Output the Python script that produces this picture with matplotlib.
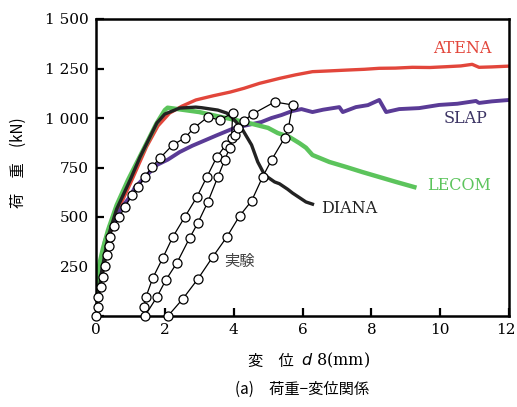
import matplotlib
matplotlib.use("Agg")
import matplotlib.pyplot as plt
from matplotlib.transforms import ScaledTranslation

# --- data (displacement mm, load kN) ---
atena_x = [0, 0.15, 0.35, 0.6, 1.0, 1.47, 1.8, 2.14, 2.5, 2.9, 3.4, 3.9, 4.3, 4.75, 5.1, 5.33,
           5.8, 6.29, 6.8, 7.28, 7.8, 8.23, 8.7, 9.19, 9.7, 10.17, 10.6, 10.93, 11.13, 11.5, 12.0]
atena_y = [0, 200, 390, 520, 670, 855, 960, 1025, 1060, 1091, 1112, 1131, 1150, 1175, 1190, 1200,
           1218, 1234, 1238, 1242, 1246, 1251, 1252, 1256, 1255, 1259, 1263, 1271, 1256, 1258, 1262]

slap_x = [0, 0.1, 0.26, 0.5, 0.75, 1.0, 1.13, 1.5, 1.77, 2.09, 2.43, 2.8, 3.07, 3.5, 4.03, 4.5,
          4.81, 5.1, 5.39, 5.7, 5.97, 6.29, 6.6, 7.07, 7.17, 7.55, 7.9, 8.23, 8.43, 8.81, 9.39,
          9.97, 10.5, 11.04, 11.13, 11.5, 12.0]
slap_y = [0, 200, 380, 470, 550, 605, 650, 715, 763, 790, 828, 860, 880, 912, 950, 968,
          980, 1000, 1015, 1035, 1045, 1030, 1042, 1055, 1030, 1055, 1065, 1091, 1030, 1045, 1050,
          1066, 1072, 1086, 1076, 1084, 1091]

lecom_x = [0, 0.06, 0.2, 0.35, 0.6, 0.93, 1.2, 1.47, 1.75, 2.0, 2.08, 2.5, 3.0, 3.5, 4.0, 4.5,
           5.0, 5.28, 5.62, 5.91, 6.1, 6.29, 6.78, 7.28, 7.74, 8.23, 8.72, 9.25]
lecom_y = [0, 232, 340, 434, 560, 687, 780, 873, 970, 1040, 1052, 1042, 1030, 1010, 992, 972,
           950, 924, 904, 873, 850, 813, 778, 752, 727, 702, 677, 651]

diana_x = [0, 0.15, 0.35, 0.6, 1.0, 1.28, 1.77, 2.0, 2.43, 2.9, 3.07, 3.54, 3.8, 3.94, 4.23,
           4.52, 4.7, 4.9, 5.19, 5.33, 5.57, 5.71, 6.1, 6.29]
diana_y = [0, 210, 400, 540, 690, 803, 975, 1020, 1050, 1055, 1052, 1040, 1025, 1005, 949,
           864, 778, 712, 677, 668, 640, 621, 576, 565]

# experiment: envelope -> unload -> reload -> unload
exp_x = [0, 0.06, 0.06, 0.14, 0.2, 0.26, 0.32, 0.38, 0.41, 0.52, 0.67, 0.84, 1.04, 1.22, 1.42,
         1.62, 1.86, 2.23, 2.58, 2.84, 3.25, 3.59, 3.97,
         3.94, 3.77, 3.51, 3.22, 2.93, 2.58, 2.23, 1.94, 1.65, 1.45, 1.39, 1.42,
         1.77, 2.03, 2.35, 2.72, 2.96, 3.25, 3.54, 3.74, 3.88, 4.03, 4.14, 4.29, 4.55, 5.19, 5.71,
         5.59, 5.48, 5.1, 4.84, 4.52, 4.17, 3.8, 3.39, 2.96, 2.52, 2.09]
exp_y = [0, 45, 96, 146, 197, 252, 308, 354, 399, 455, 500, 550, 611, 651, 702,
         752, 798, 864, 899, 949, 1005, 990, 1025,
         899, 864, 803, 702, 601, 500, 399, 293, 192, 96, 45, 0,
         96, 182, 268, 394, 470, 576, 702, 788, 848, 914, 949, 985, 1020, 1081, 1066,
         949, 899, 788, 702, 581, 505, 399, 298, 187, 86, 0]

x_ticks = [0, 2, 4, 6, 8, 10, 12]
y_ticks = [0, 250, 500, 750, 1000, 1250, 1500]
y_ticklabels = ["", "250", "500", "750", "1 000", "1 250", "1 500"]

RED = "#e2463b"
PURPLE = "#5a3b96"
GREEN = "#5cc45c"
BLACK = "#222222"
SERIF = "DejaVu Serif"
CJK = ["Noto Sans CJK JP", "DejaVu Sans"]

fig = plt.figure(figsize=(5.17, 4.07), dpi=100)
ax = fig.add_axes([96 / 517, 1 - 316 / 407, 413 / 517, 297 / 407])

ax.plot(atena_x, atena_y, color=RED, lw=2.4, solid_joinstyle="round", zorder=2)
ax.plot(slap_x, slap_y, color=PURPLE, lw=2.8, solid_joinstyle="round", zorder=2)
ax.plot(diana_x, diana_y, color=BLACK, lw=2.4, solid_joinstyle="round", zorder=3)
ax.plot(lecom_x, lecom_y, color=GREEN, lw=3.2, solid_joinstyle="round", zorder=2)
ax.plot(exp_x, exp_y, color="black", lw=0.9, marker="o", ms=6.5, mfc="white",
        mec="black", mew=0.9, zorder=5, clip_on=False)

ax.text(10.64, 1353, "ATENA", color=RED, fontsize=11.5, family=SERIF, ha="center", va="center")
ax.text(10.75, 995, "SLAP", color="#3c3464", fontsize=11.5, family=SERIF, ha="center", va="center")
ax.text(10.55, 657, "LECOM", color=GREEN, fontsize=11.5, family=SERIF, ha="center", va="center")
ax.text(7.36, 545, "DIANA", color=BLACK, fontsize=11.5, family=SERIF, ha="center", va="center")
ax.text(4.17, 273, "実験", color="#444444", fontsize=11, family=CJK, ha="center", va="center")

ax.set_xlim(0, 12)
ax.set_ylim(0, 1500)
ax.set_xticks(x_ticks)
ax.set_yticks(y_ticks)
ax.set_yticklabels(y_ticklabels)
ax.tick_params(direction="in", length=6, width=1.6, labelsize=11, pad=5)
for lab in ax.get_xticklabels() + ax.get_yticklabels():
    lab.set_family(SERIF)
for sp in ax.spines.values():
    sp.set_linewidth(1.8)

# keep the last x label inside the canvas
last = ax.get_xticklabels()[-1]
last.set_transform(last.get_transform() + ScaledTranslation(-3 / 100, 0, fig.dpi_scale_trans))

# axis labels (CJK + serif parts)
fig.text(18 / 517, 1 - 163 / 407, "荷　重　(kN)", rotation=90, fontsize=11,
         family=CJK, ha="center", va="center")
fig.text(294 / 517, 1 - 361 / 407, "変　位", fontsize=11, family=CJK, ha="right", va="center")
fig.text(301 / 517, 1 - 360 / 407, "$d$ 8(mm)", fontsize=11.5, family=SERIF,
         ha="left", va="center")
fig.text(302 / 517, 1 - 389 / 407, "(a)　荷重−変位関係", fontsize=11, family=CJK,
         ha="center", va="center")

fig.savefig("out.png", dpi=100)
